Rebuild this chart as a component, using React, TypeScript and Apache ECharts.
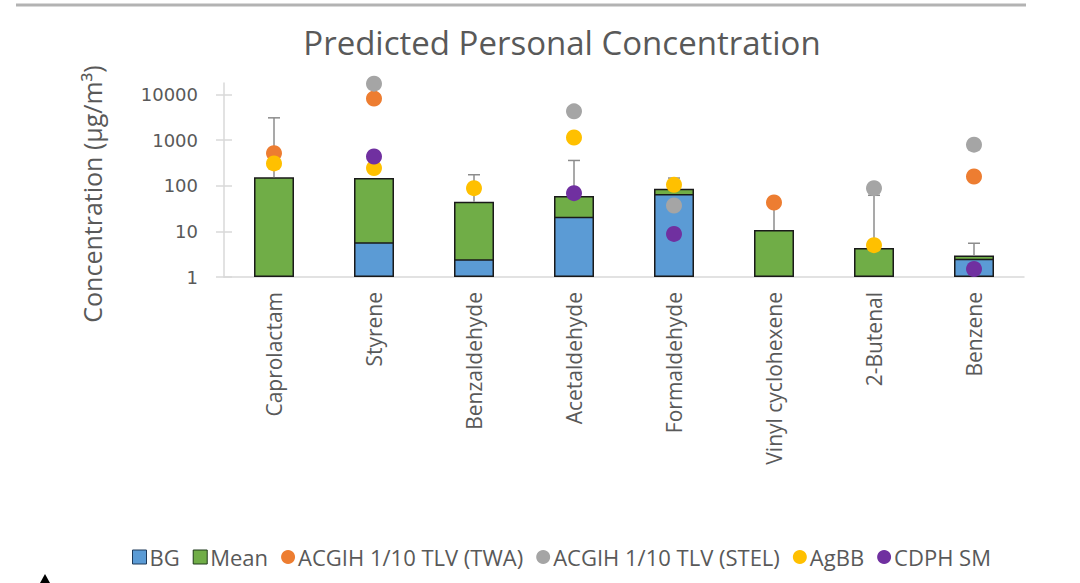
import React, { useEffect, useRef } from "react";
import * as echarts from "echarts";

const categories = [
  "Caprolactam",
  "Styrene",
  "Benzaldehyde",
  "Acetaldehyde",
  "Formaldehyde",
  "Vinyl cyclohexene",
  "2-Butenal",
  "Benzene",
];
const bgValues = [null, 5.8, 2.45, 21, 66, null, null, 2.5];
const meanValues = [155, 148, 45, 60, 86, 10.8, 4.3, 2.95];
const errorTop = [3100, null, 175, 360, 148, 45, 62, 5.5];
const twaValues = [520, 8200, null, null, null, 43, null, 160];
const stelValues = [null, 17400, null, 4300, 37, null, 89, 800];
const agbbValues = [310, 245, 89, 1150, 105, null, 5.0, null];
const cdphValues = [null, 440, null, 69, 8.8, null, null, 1.5];
const yTicks = [1, 10, 100, 1000, 10000];

const FONT = "Open Sans";
const TEXT = "#595959";

export default function App() {
  const ref = useRef<HTMLDivElement>(null);
  useEffect(() => {
    if (!ref.current) return;
    const chart = echarts.init(ref.current, null, { renderer: "svg" });
    const errData: any[] = [];
    errorTop.forEach((e, i) => {
      if (e != null) errData.push([i, meanValues[i], e]);
    });
    const scatter = (name: string, color: string, vals: (number | null)[]) => ({
      name,
      type: "scatter",
      symbol: "circle",
      symbolSize: 16,
      itemStyle: { color, opacity: 1 },
      z: 5,
      data: vals.map((v, i) => (v == null ? null : [i, v])).filter((d) => d != null),
    });
    const option: any = {
      animation: false,
      textStyle: { fontFamily: FONT },
      graphic: [
        {
          type: "line",
          shape: { x1: 16, y1: 5, x2: 1026, y2: 5 },
          style: { stroke: "#b3b3b3", lineWidth: 3 },
        },
        {
          type: "text",
          x: 562,
          y: 42,
          style: {
            text: "Predicted Personal Concentration",
            fontFamily: FONT,
            fontSize: 33,
            fill: TEXT,
            textAlign: "center",
            textVerticalAlign: "middle",
          },
        },
        {
          type: "text",
          x: 92,
          y: 194,
          rotation: Math.PI / 2,
          style: {
            text: "Concentration (µg/m³)",
            fontFamily: FONT,
            fontSize: 25,
            fill: TEXT,
            textAlign: "center",
            textVerticalAlign: "middle",
          },
        },
        {
          type: "polygon",
          shape: { points: [[40, 583], [45, 574], [50, 583]] },
          style: { fill: "#000" },
        },
      ],
      legend: {
        bottom: 10,
        left: 127,
        itemWidth: 14,
        itemHeight: 14,
        itemGap: 13,
        textStyle: { color: TEXT, fontSize: 22, fontFamily: FONT, padding: [0, 0, 0, -2] },
        data: [
          { name: "BG", icon: "rect", itemStyle: { color: "#5b9bd5", borderColor: "#1f3a5a", borderWidth: 1 } },
          { name: "Mean", icon: "rect", itemStyle: { color: "#70ad47", borderColor: "#1f3a1a", borderWidth: 1 } },
          { name: "ACGIH 1/10 TLV (TWA)", icon: "circle" },
          { name: "ACGIH 1/10 TLV (STEL)", icon: "circle" },
          { name: "AgBB", icon: "circle" },
          { name: "CDPH SM", icon: "circle" },
        ],
      },
      grid: { left: 224, right: 56, top: 83, bottom: 306, containLabel: false },
      xAxis: {
        type: "category",
        data: categories,
        axisLine: { lineStyle: { color: "#d9d9d9", width: 1.5 } },
        axisTick: { show: false },
        axisLabel: {
          rotate: 90,
          interval: 0,
          color: TEXT,
          fontSize: 21,
          margin: 15,
          fontFamily: FONT,
        },
      },
      yAxis: [
        {
          type: "log",
          logBase: 10,
          min: 1,
          max: 18000,
          axisLine: { show: true, lineStyle: { color: "#d9d9d9", width: 1.5 } },
          axisTick: {
            show: true,
            length: 8,
            lineStyle: { color: "#d9d9d9", width: 1.5 },
            customValues: yTicks,
          },
          axisLabel: {
            color: TEXT,
            fontSize: 18,
            margin: 26,
            fontFamily: "DejaVu Sans",
            customValues: yTicks,
            formatter: (v: number) => String(Math.round(v)),
          },
          splitLine: { show: false },
        },
        {
          type: "log",
          logBase: 10,
          min: 1,
          max: 18000,
          position: "left",
          axisLine: { show: false },
          axisTick: {
            show: true,
            inside: true,
            length: 8,
            lineStyle: { color: "#d9d9d9", width: 1.5 },
            customValues: yTicks,
          },
          axisLabel: { show: false },
          splitLine: { show: false },
        },
      ],
      series: [
        {
          name: "BG",
          type: "bar",
          barWidth: 40,
          barGap: "-100%",
          z: 3,
          itemStyle: { color: "#5b9bd5", borderColor: "#1a1a1a", borderWidth: 1.5 },
          data: bgValues,
        },
        {
          name: "Mean",
          type: "bar",
          barWidth: 40,
          barGap: "-100%",
          z: 2,
          itemStyle: { color: "#70ad47", borderColor: "#1a1a1a", borderWidth: 1.5 },
          data: meanValues,
        },
        {
          name: "Error",
          type: "custom",
          z: 4,
          silent: true,
          encode: { x: 0, y: [1, 2] },
          renderItem: (params: any, api: any) => {
            const i = api.value(0);
            const lo = api.coord([i, api.value(1)]);
            const hi = api.coord([i, api.value(2)]);
            const style = { stroke: "#8c8c8c", lineWidth: 1.5 };
            return {
              type: "group",
              children: [
                { type: "line", shape: { x1: lo[0], y1: lo[1], x2: hi[0], y2: hi[1] }, style },
                { type: "line", shape: { x1: hi[0] - 6, y1: hi[1], x2: hi[0] + 6, y2: hi[1] }, style },
              ],
            };
          },
          data: errData,
        },
        scatter("ACGIH 1/10 TLV (TWA)", "#ed7d31", twaValues),
        scatter("ACGIH 1/10 TLV (STEL)", "#a5a5a5", stelValues),
        scatter("AgBB", "#ffc000", agbbValues),
        scatter("CDPH SM", "#7030a0", cdphValues),
      ],
    };
    chart.setOption(option);
    return () => chart.dispose();
  }, []);
  return (
    <div
      ref={ref}
      style={{ position: "fixed", left: 0, top: 0, width: 1080, height: 583, background: "#fff" }}
    />
  );
}
